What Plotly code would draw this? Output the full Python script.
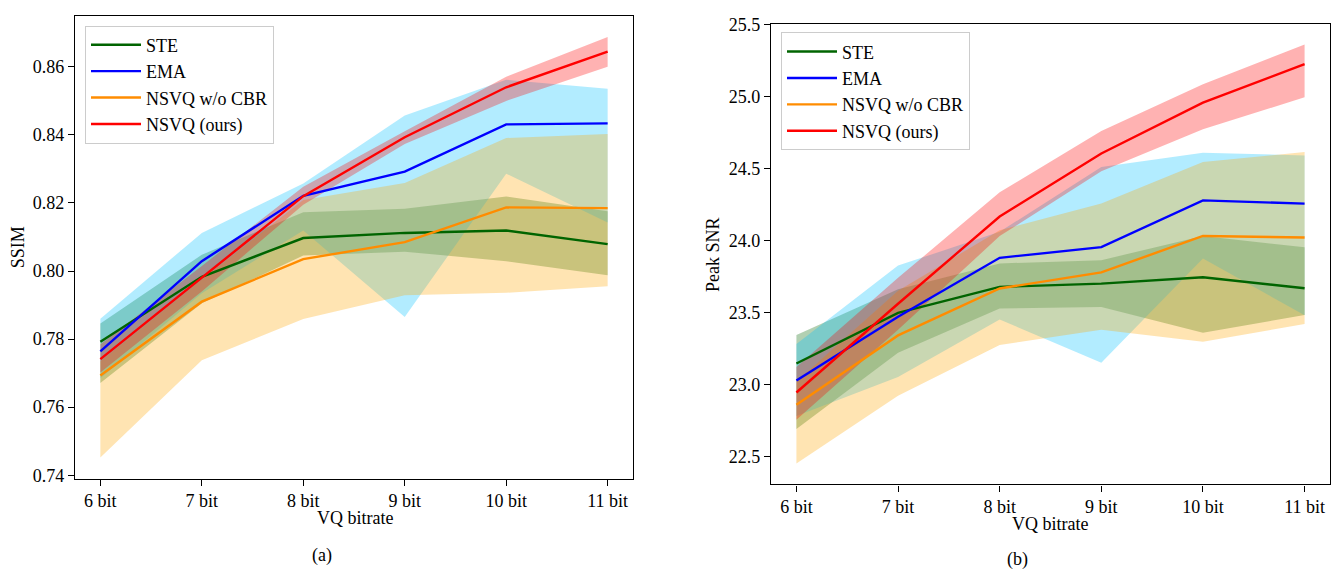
import plotly.graph_objects as go

W, H = 1342, 578
FONT = "Liberation Serif"
FS = 18

bits = [6, 7, 8, 9, 10, 11]
tick_labels = ["6 bit", "7 bit", "8 bit", "9 bit", "10 bit", "11 bit"]
methods = ["STE", "EMA", "NSVQ w/o CBR", "NSVQ (ours)"]

# (a) SSIM
ssim_ste = [0.7792, 0.7983, 0.8097, 0.8112, 0.8119, 0.8079]
ssim_ste_hi = [0.7846, 0.8048, 0.8173, 0.8183, 0.8219, 0.8176]
ssim_ste_lo = [0.7671, 0.7905, 0.8046, 0.8057, 0.8029, 0.7988]
ssim_ema = [0.7764, 0.8029, 0.8221, 0.8292, 0.8431, 0.8434]
ssim_ema_hi = [0.7860, 0.8112, 0.8257, 0.8457, 0.8562, 0.8536]
ssim_ema_lo = [0.7685, 0.7935, 0.8119, 0.7865, 0.8286, 0.8143]
ssim_nocbr = [0.7693, 0.7910, 0.8035, 0.8085, 0.8187, 0.8185]
ssim_nocbr_hi = [0.7735, 0.7975, 0.8209, 0.8259, 0.8391, 0.8403]
ssim_nocbr_lo = [0.7452, 0.7738, 0.7859, 0.7929, 0.7936, 0.7955]
ssim_nsvq = [0.7741, 0.7980, 0.8220, 0.8393, 0.8540, 0.8645]
ssim_nsvq_hi = [0.7785, 0.8015, 0.8248, 0.8411, 0.8571, 0.8688]
ssim_nsvq_lo = [0.7702, 0.7940, 0.8195, 0.8373, 0.8500, 0.8600]

# (b) Peak SNR
psnr_ste = [23.145, 23.497, 23.677, 23.700, 23.744, 23.668]
psnr_ste_hi = [23.343, 23.660, 23.840, 23.863, 24.030, 23.953]
psnr_ste_lo = [22.690, 23.220, 23.527, 23.538, 23.359, 23.482]
psnr_ema = [23.026, 23.470, 23.879, 23.953, 24.278, 24.256]
psnr_ema_hi = [23.280, 23.825, 24.060, 24.510, 24.610, 24.590]
psnr_ema_lo = [22.780, 23.050, 23.450, 23.150, 23.874, 23.480]
psnr_nocbr = [22.858, 23.340, 23.666, 23.778, 24.031, 24.020]
psnr_nocbr_hi = [23.020, 23.650, 24.070, 24.256, 24.545, 24.614]
psnr_nocbr_lo = [22.450, 22.920, 23.273, 23.380, 23.295, 23.420]
psnr_nsvq = [22.943, 23.560, 24.166, 24.604, 24.958, 25.225]
psnr_nsvq_hi = [23.120, 23.740, 24.334, 24.760, 25.085, 25.361]
psnr_nsvq_lo = [22.753, 23.380, 24.030, 24.480, 24.772, 24.995]

ssim_ticks = [0.74, 0.76, 0.78, 0.80, 0.82, 0.84, 0.86]
psnr_ticks = [22.5, 23.0, 23.5, 24.0, 24.5, 25.0, 25.5]

line_colors = ["#006400", "#0000ff", "#ff8c00", "#ff0000"]
fill_colors = ["rgba(0,100,0,0.3)", "rgba(0,191,255,0.3)",
               "rgba(255,165,0,0.3)", "rgba(255,0,0,0.3)"]

panels = [
    ("x", "y", "legend",
     [ssim_ste, ssim_ema, ssim_nocbr, ssim_nsvq],
     [ssim_ste_hi, ssim_ema_hi, ssim_nocbr_hi, ssim_nsvq_hi],
     [ssim_ste_lo, ssim_ema_lo, ssim_nocbr_lo, ssim_nsvq_lo]),
    ("x2", "y2", "legend2",
     [psnr_ste, psnr_ema, psnr_nocbr, psnr_nsvq],
     [psnr_ste_hi, psnr_ema_hi, psnr_nocbr_hi, psnr_nsvq_hi],
     [psnr_ste_lo, psnr_ema_lo, psnr_nocbr_lo, psnr_nsvq_lo]),
]

fig = go.Figure()
for xa, ya, leg, mids, his, los in panels:
    for i in range(4):
        fig.add_trace(go.Scatter(
            x=bits + bits[::-1], y=his[i] + los[i][::-1],
            fill="toself", fillcolor=fill_colors[i], mode="lines",
            line=dict(width=0, color=fill_colors[i]),
            hoverinfo="skip", showlegend=False, xaxis=xa, yaxis=ya))
    for i in range(4):
        fig.add_trace(go.Scatter(
            x=bits, y=mids[i], mode="lines", name=methods[i],
            line=dict(color=line_colors[i], width=2.4),
            xaxis=xa, yaxis=ya, legend=leg))

axis_common = dict(showline=True, linecolor="black", linewidth=1.3, mirror=True,
                   ticks="outside", ticklen=6, tickwidth=1.3, tickcolor="black",
                   showgrid=False, zeroline=False,
                   tickfont=dict(family=FONT, size=FS, color="black"))

legend_common = dict(xanchor="left", yanchor="top",
                     bgcolor="rgba(255,255,255,0.8)", bordercolor="#cccccc",
                     borderwidth=1, font=dict(family=FONT, size=FS, color="black"),
                     itemwidth=50, tracegroupgap=0)

fig.update_layout(
    width=W, height=H,
    margin=dict(l=0, r=0, t=0, b=0),
    paper_bgcolor="white", plot_bgcolor="white",
    font=dict(family=FONT, size=FS, color="black"),
    xaxis=dict(domain=[75 / W, 633 / W], range=[5.75, 11.25],
               tickvals=bits, ticktext=tick_labels, anchor="y", **axis_common),
    yaxis=dict(domain=[1 - 483 / H, 1 - 7 / H], range=[0.7390, 0.8750],
               tickvals=ssim_ticks, ticktext=[f"{v:.2f}" for v in ssim_ticks],
               anchor="x", **axis_common),
    xaxis2=dict(domain=[771 / W, 1330 / W], range=[5.75, 11.25],
                tickvals=bits, ticktext=tick_labels, anchor="y2", **axis_common),
    yaxis2=dict(domain=[1 - 489 / H, 1 - 15 / H], range=[22.304, 25.507],
                tickvals=psnr_ticks, ticktext=[f"{v:.1f}" for v in psnr_ticks],
                anchor="x2", **axis_common),
    legend=dict(x=85 / W, y=1 - 17 / H, **legend_common),
    legend2=dict(x=781 / W, y=1 - 24 / H, **legend_common),
    showlegend=True,
)

ann = [
    dict(text="VQ bitrate", x=355 / W, y=1 - 524 / H),
    dict(text="VQ bitrate", x=1050 / W, y=1 - 530 / H),
    dict(text="SSIM", x=18 / W, y=1 - 245 / H, textangle=-90),
    dict(text="Peak SNR", x=713 / W, y=1 - 252 / H, textangle=-90),
    dict(text="(a)", x=322 / W, y=1 - 562 / H),
    dict(text="(b)", x=1017 / W, y=1 - 566 / H),
]
for a in ann:
    fig.add_annotation(xref="paper", yref="paper", showarrow=False,
                       xanchor="center", yanchor="middle",
                       font=dict(family=FONT, size=FS, color="black"), **a)

fig.write_html("out.html")
